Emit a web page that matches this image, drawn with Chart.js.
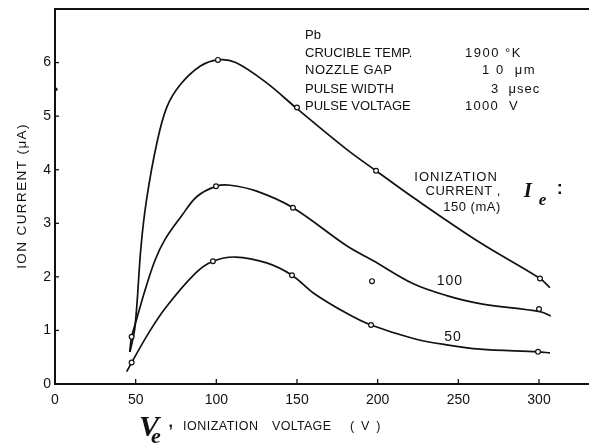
<!DOCTYPE html>
<html><head><meta charset="utf-8">
<script src="https://cdn.jsdelivr.net/npm/chart.js@4/dist/chart.umd.min.js"></script>
<style>html,body{margin:0;padding:0;background:#fff}#wrap{width:589px;height:447px}</style>
</head><body><div id="wrap"><canvas id="c" width="589" height="447"></canvas></div>
<script>
const xTicks = [0, 50, 100, 150, 200, 250, 300];
const yTicks = [0, 1, 2, 3, 4, 5, 6];

// measured points (open circles)
const pts150 = [[47.5, 0.88], [101, 6.05], [150, 5.16], [199, 3.98], [300.6, 1.97]];
const pts100 = [[99.8, 3.69], [147.5, 3.29], [196.5, 1.92], [300, 1.40]];
const pts50  = [[47.5, 0.40], [97.9, 2.29], [146.9, 2.03], [195.9, 1.10], [299.4, 0.60]];
const specks = [[0.5, 5.5]];

// hand-drawn fitted curves
const curve150 = [[46.5,0.6],[49.6,1.07],[53.3,2.56],[56.8,3.45],[63,4.48],[69.2,5.16],[77.5,5.58],[89.9,5.93],[101,6.05],[112,6.0],[131.2,5.62],[150,5.14],[180.8,4.38],[199,3.98],[222.1,3.48],[263.4,2.64],[300.6,1.97],[306.8,1.8]];
const curve100 = [[46.3,0.6],[47.5,0.88],[50.5,1.2],[55.8,1.75],[62,2.31],[68.2,2.7],[78.5,3.14],[88,3.5],[99.8,3.69],[108.5,3.71],[125,3.6],[147.5,3.29],[180.8,2.58],[197.3,2.3],[222.1,1.87],[242.8,1.65],[263.4,1.5],[300.6,1.35],[307.3,1.27]];
const curve50  = [[44.4,0.23],[47.5,0.40],[57.8,0.94],[68.2,1.41],[86.8,2.06],[97.9,2.29],[112,2.37],[131.2,2.26],[146.9,2.03],[160.1,1.7],[180.8,1.32],[195.9,1.10],[222.1,0.85],[242.8,0.73],[263.4,0.65],[299.4,0.6],[306.8,0.58]];

const xy = a => a.map(p => ({x: p[0], y: p[1]}));
const ink = '#111';

function ptSet(d){ return {type:'scatter', data: xy(d), pointRadius: 2.4, pointBorderWidth: 1.2, pointBorderColor: ink, pointBackgroundColor: '#fff', showLine:false, order:0}; }
function lineSet(d){ return {type:'line', data: xy(d), borderColor: ink, borderWidth: 1.7, pointRadius: 0, tension: 0.35, fill:false, order:1}; }

const decor = {
  id: 'decor',
  afterDraw(chart){
    const ctx = chart.ctx, xs = chart.scales.x, ys = chart.scales.y, a = chart.chartArea;
    const P = (xv, yv) => [xs.getPixelForValue(xv), ys.getPixelForValue(yv)];
    ctx.save();
    ctx.strokeStyle = ink; ctx.fillStyle = ink;
    // top frame line
    ctx.lineWidth = 2;
    ctx.beginPath(); ctx.moveTo(a.left, a.top); ctx.lineTo(chart.width, a.top); ctx.stroke();
    // inward ticks
    ctx.lineWidth = 1.3;
    xs.ticks.forEach(t => { const px = xs.getPixelForValue(t.value); if (t.value === 0) return; ctx.beginPath(); ctx.moveTo(px, a.bottom); ctx.lineTo(px, a.bottom - 5); ctx.stroke(); });
    ys.ticks.forEach(t => { const py = ys.getPixelForValue(t.value); if (t.value === 0) return; ctx.beginPath(); ctx.moveTo(a.left, py); ctx.lineTo(a.left + 4, py); ctx.stroke(); });

    const txt = (s, xv, yv, font, align, ls) => {
      const [px, py] = P(xv, yv);
      ctx.font = font; ctx.textAlign = align || 'left'; ctx.textBaseline = 'middle';
      ctx.letterSpacing = ls || '0px';
      ctx.fillText(s, px, py);
    };
    const f = '13px "Liberation Sans", Arial, sans-serif';
    // condition block
    txt('Pb', 155, 6.51, f);
    txt('CRUCIBLE TEMP.', 155, 6.18, f);
    txt('NOZZLE GAP', 155, 5.85, f, 'left', '0.5px');
    txt('PULSE WIDTH', 155, 5.50, f);
    txt('PULSE VOLTAGE', 155, 5.19, f);
    txt('1900 °K', 254.1, 6.18, f, 'left', '1.5px');
    txt('1 0  μm', 264.7, 5.85, f, 'left', '1.5px');
    txt('3  μsec', 270.3, 5.50, f, 'left', '1px');
    txt('1000  V', 254.1, 5.19, f, 'left', '1.3px');
    // ionization current legend
    txt('IONIZATION', 248.6, 3.85, f, 'center', '1px');
    txt('CURRENT ,', 253, 3.60, f, 'center', '0.5px');
    txt('150 (mA)', 258.5, 3.29, f, 'center', '0.5px');
    txt('100', 244.8, 1.92, '14px "Liberation Sans", Arial, sans-serif', 'center', '1px');
    txt('50', 246.7, 0.88, '14px "Liberation Sans", Arial, sans-serif', 'center', '1px');
    // I_e :
    txt('I', 290.5, 3.60, 'italic bold 21px "Liberation Serif", serif');
    txt('e', 299.8, 3.42, 'italic bold 17px "Liberation Serif", serif');
    txt(':', 311.0, 3.64, 'bold 18px "Liberation Sans", sans-serif');

    // x title
    txt('V', 52.1, -0.82, 'italic bold 30px "Liberation Serif", serif');
    txt('e', 59.5, -1.0, 'italic bold 22px "Liberation Serif", serif');
    txt(',', 70.3, -0.72, 'bold 16px "Liberation Sans", sans-serif');
    const fs = '12.5px "Liberation Sans", Arial, sans-serif';
    txt('IONIZATION', 79.3, -0.8, fs, 'left', '0.5px');
    txt('VOLTAGE', 134.5, -0.8, fs, 'left', '0.3px');
    txt('(  V  )', 182.8, -0.8, fs, 'left', '0px');

    // y title
    ctx.save();
    ctx.translate(22, ys.getPixelForValue(3.51));
    ctx.rotate(-Math.PI/2);
    ctx.font = '13.5px "Liberation Sans", Arial, sans-serif';
    ctx.letterSpacing = '1.4px';
    ctx.textAlign = 'center'; ctx.textBaseline = 'middle';
    ctx.fillText('ION CURRENT (μA)', 0, 0);
    ctx.restore();
    ctx.restore();
  }
};

new Chart(document.getElementById('c'), {
  data: {
    datasets: [
      ptSet(pts150), ptSet(pts100), ptSet(pts50),
      {type:'scatter', data: xy(specks), pointRadius: 1.8, pointBackgroundColor: ink, pointBorderWidth: 0, order:0},
      lineSet(curve150), lineSet(curve100), lineSet(curve50)
    ]
  },
  options: {
    responsive: false, animation: false,
    layout: {autoPadding: false, padding: {top: 9, right: 0, left: 0, bottom: 0}},
    plugins: {legend: {display: false}, tooltip: {enabled: false}},
    scales: {
      x: {
        type: 'linear', min: 0, max: 331,
        afterBuildTicks: s => { s.ticks = xTicks.map(v => ({value: v})); },
        afterFit: s => { s.height = 63; s.paddingLeft = 0; s.paddingRight = 0; },
        grid: {display: false, drawTicks: false},
        border: {display: true, color: ink, width: 2},
        ticks: {color: ink, padding: 8, font: {family: '"Liberation Sans", Arial, sans-serif', size: 14}}
      },
      y: {
        type: 'linear', min: 0, max: 7,
        afterBuildTicks: s => { s.ticks = yTicks.map(v => ({value: v})); },
        afterFit: s => { s.width = 55; s.paddingTop = 0; s.paddingBottom = 0; },
        grid: {display: false, drawTicks: false},
        border: {display: true, color: ink, width: 2},
        ticks: {color: ink, padding: 4, font: {family: '"Liberation Sans", Arial, sans-serif', size: 14}}
      }
    }
  },
  plugins: [decor]
});
</script></body></html>
